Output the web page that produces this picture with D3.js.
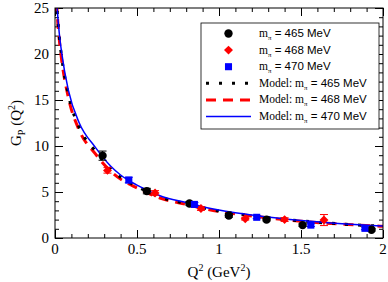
<!DOCTYPE html>
<html>
<head>
<meta charset="utf-8">
<script src="https://cdn.jsdelivr.net/npm/d3@7"></script>
<style>
  body { margin: 0; background: #fff; }
  svg { display: block; }
</style>
</head>
<body>
<svg width="388" height="282"></svg>
<script>
// lattice data points (Q^2 in GeV^2, G_P, error)
var q465 = [0.29, 0.56, 0.82, 1.06, 1.29, 1.51, 1.93];
var g465 = [8.95, 5.1, 3.75, 2.45, 2.0, 1.4, 0.9];
var e465 = [0.5, 0.3, 0.2, 0.2, 0.15, 0.15, 0.15];

var q468 = [0.32, 0.61, 0.89, 1.16, 1.40, 1.64];
var g468 = [7.35, 4.9, 3.2, 2.1, 2.0, 1.95];
var e468 = [0.3, 0.25, 0.2, 0.15, 0.2, 0.6];

var q470 = [0.45, 0.85, 1.23, 1.56, 1.89];
var g470 = [6.3, 3.65, 2.25, 1.4, 1.05];
var e470 = [0.3, 0.2, 0.15, 0.15, 0.15];

// model curves
var qModel = [0.005, 0.014, 0.026, 0.041, 0.081, 0.148, 0.244, 0.34, 0.40, 0.5, 0.64, 0.8, 0.95, 1.2, 1.5, 1.75, 2.0];
var m465 = [27.5, 24.5, 21.9, 19.6, 15.6, 12.0, 9.5, 7.5, 6.6, 5.6, 4.45, 3.73, 3.1, 2.44, 1.86, 1.52, 1.28];
var m468 = [27.5, 24.3, 21.6, 19.3, 15.3, 11.7, 9.2, 7.25, 6.4, 5.45, 4.35, 3.65, 3.05, 2.4, 1.83, 1.5, 1.27];
var m470 = [27.5, 24.8, 22.25, 20.1, 16.1, 12.5, 9.9, 7.8, 6.85, 5.75, 4.6, 3.85, 3.2, 2.5, 1.9, 1.55, 1.3];

var xTicks = [0, 0.5, 1, 1.5, 2];
var yTicks = [0, 5, 10, 15, 20, 25];

var svg = d3.select("svg"),
    margin = {top: 8, right: 5, bottom: 44, left: 55},
    width = +svg.attr("width") - margin.left - margin.right,
    height = +svg.attr("height") - margin.top - margin.bottom,
    g = svg.append("g").attr("transform", "translate(" + margin.left + "," + margin.top + ")");

var x = d3.scaleLinear().domain([0, 2]).range([0, width]);
var y = d3.scaleLinear().domain([0, 25]).range([height, 0]);

var serif = "'Liberation Serif', 'DejaVu Serif', serif";
var sans = "'Liberation Sans', Arial, sans-serif";

svg.append("defs").append("clipPath").attr("id", "clip")
  .append("rect").attr("width", width).attr("height", height);

// ticks, inward, mirrored on top and right
g.append("g")
    .attr("transform", "translate(0," + height + ")")
    .call(d3.axisTop(x).tickValues(d3.range(0, 2.01, 0.1)).tickSize(4).tickFormat(""));
g.append("g")
    .attr("transform", "translate(0," + height + ")")
    .call(d3.axisTop(x).tickValues(xTicks).tickSize(8).tickFormat(""));
g.append("g")
    .call(d3.axisBottom(x).tickValues(d3.range(0, 2.01, 0.1)).tickSize(4).tickFormat(""));
g.append("g")
    .call(d3.axisBottom(x).tickValues(xTicks).tickSize(8).tickFormat(""));

g.append("g")
    .call(d3.axisRight(y).tickValues(d3.range(0, 25.1, 1)).tickSize(4).tickFormat(""));
g.append("g")
    .call(d3.axisRight(y).tickValues(yTicks).tickSize(8).tickFormat(""));
g.append("g")
    .attr("transform", "translate(" + width + ",0)")
    .call(d3.axisLeft(y).tickValues(d3.range(0, 25.1, 1)).tickSize(4).tickFormat(""));
g.append("g")
    .attr("transform", "translate(" + width + ",0)")
    .call(d3.axisLeft(y).tickValues(yTicks).tickSize(8).tickFormat(""));

g.selectAll(".domain").remove();
g.selectAll(".tick line").attr("stroke", "#000");

// tick labels
g.append("g").selectAll("text")
  .data(xTicks)
  .enter().append("text")
    .attr("x", function(d) { return x(d); })
    .attr("y", height + 16)
    .attr("text-anchor", "middle")
    .attr("font-family", serif)
    .attr("font-size", 15)
    .text(function(d) { return d; });

g.append("g").selectAll("text")
  .data(yTicks)
  .enter().append("text")
    .attr("x", -6)
    .attr("y", function(d) { return y(d); })
    .attr("dy", "0.35em")
    .attr("text-anchor", "end")
    .attr("font-family", serif)
    .attr("font-size", 15)
    .text(function(d) { return d; });

// axis titles
var xl = svg.append("text")
    .attr("x", margin.left + width / 2)
    .attr("y", 277)
    .attr("text-anchor", "middle")
    .attr("font-family", serif)
    .attr("font-size", 15);
xl.append("tspan").text("Q");
xl.append("tspan").attr("font-size", 10).attr("dy", -6).text("2");
xl.append("tspan").attr("dy", 6).text(" (GeV");
xl.append("tspan").attr("font-size", 10).attr("dy", -6).text("2");
xl.append("tspan").attr("dy", 6).text(")");

var yl = svg.append("text")
    .attr("transform", "translate(21," + (margin.top + height / 2) + ") rotate(-90)")
    .attr("text-anchor", "middle")
    .attr("font-family", serif)
    .attr("font-size", 15);
yl.append("tspan").text("G");
yl.append("tspan").attr("font-size", 10).attr("dy", 4).text("P");
yl.append("tspan").attr("dy", -4).text(" (Q");
yl.append("tspan").attr("font-size", 10).attr("dy", -6).text("2");
yl.append("tspan").attr("dy", 6).text(")");

// model curves
var line = d3.line()
    .x(function(d) { return x(d[0]); })
    .y(function(d) { return y(d[1]); })
    .curve(d3.curveMonotoneX);

var curves = g.append("g").attr("clip-path", "url(#clip)");

var models = [
  {vals: m468, color: "#ff0000", width: 3, dash: "10,7"},
  {vals: m465, color: "#000", width: 3, dash: "3,10"},
  {vals: m470, color: "#0000ff", width: 1.5, dash: null}
];

// data points with error bars (diamond = square turned 45 degrees)
var sets = [
  {q: q465, v: g465, e: e465, color: "#000", sym: d3.symbolCircle, size: 55, rot: 0},
  {q: q468, v: g468, e: e468, color: "#ff0000", sym: d3.symbolSquare, size: 40, rot: 45},
  {q: q470, v: g470, e: e470, color: "#0000ff", sym: d3.symbolSquare, size: 50, rot: 0}
];

sets.forEach(function(s) {
  var pts = s.q.map(function(q, i) { return {q: q, v: s.v[i], e: s.e[i]}; });
  var eb = g.append("g").attr("stroke", s.color).attr("stroke-width", 1);
  eb.selectAll("line.v").data(pts).enter().append("line")
    .attr("x1", function(d) { return x(d.q); })
    .attr("x2", function(d) { return x(d.q); })
    .attr("y1", function(d) { return y(d.v - d.e); })
    .attr("y2", function(d) { return y(d.v + d.e); });
  eb.selectAll("line.t").data(pts).enter().append("line")
    .attr("x1", function(d) { return x(d.q) - 4; })
    .attr("x2", function(d) { return x(d.q) + 4; })
    .attr("y1", function(d) { return y(d.v + d.e); })
    .attr("y2", function(d) { return y(d.v + d.e); });
  eb.selectAll("line.b").data(pts).enter().append("line")
    .attr("x1", function(d) { return x(d.q) - 4; })
    .attr("x2", function(d) { return x(d.q) + 4; })
    .attr("y1", function(d) { return y(d.v - d.e); })
    .attr("y2", function(d) { return y(d.v - d.e); });
});

sets.forEach(function(s) {
  g.append("g").selectAll("path")
    .data(s.q.map(function(q, i) { return [q, s.v[i]]; }))
    .enter().append("path")
      .attr("transform", function(d) { return "translate(" + x(d[0]) + "," + y(d[1]) + ") rotate(" + s.rot + ")"; })
      .attr("d", d3.symbol().type(s.sym).size(s.size))
      .attr("fill", s.color);
});

models.forEach(function(m) {
  curves.append("path")
    .datum(qModel.map(function(q, i) { return [q, m.vals[i]]; }))
    .attr("d", line)
    .attr("fill", "none")
    .attr("stroke", m.color)
    .attr("stroke-width", m.width)
    .attr("stroke-dasharray", m.dash);
});

// frame
g.append("rect")
    .attr("width", width)
    .attr("height", height)
    .attr("fill", "none")
    .attr("stroke", "#000");

// legend
var legend = svg.append("g").attr("transform", "translate(201,23)");
legend.append("rect")
    .attr("width", 178)
    .attr("height", 106)
    .attr("fill", "#fff")
    .attr("stroke", "#000")
    .attr("stroke-width", 0.8);

var legendItems = [
  {label: "465", model: false, set: sets[0]},
  {label: "468", model: false, set: sets[1]},
  {label: "470", model: false, set: sets[2]},
  {label: "465", model: true, m: models[1]},
  {label: "468", model: true, m: models[0]},
  {label: "470", model: true, m: models[2]}
];

var li = legend.selectAll("g.item")
  .data(legendItems)
  .enter().append("g")
    .attr("transform", function(d, i) { return "translate(0," + (10.5 + i * 16.6) + ")"; });

li.each(function(d) {
  var el = d3.select(this);
  if (d.model) {
    el.append("line")
      .attr("x1", 5).attr("x2", 50)
      .attr("stroke", d.m.color)
      .attr("stroke-width", d.m.width)
      .attr("stroke-dasharray", d.m.dash);
  } else {
    el.append("path")
      .attr("transform", "translate(27.5,0) rotate(" + d.set.rot + ")")
      .attr("d", d3.symbol().type(d.set.sym).size(d.set.size))
      .attr("fill", d.set.color);
  }
  var t = el.append("text")
    .attr("x", 58)
    .attr("y", 3.5)
    .attr("font-size", 11.5);
  if (d.model) t.append("tspan").attr("font-family", serif).text("Model: ");
  t.append("tspan").attr("font-family", serif).text("m");
  t.append("tspan").attr("font-family", serif).attr("font-size", 7).attr("dy", 3).text("\u03c0");
  t.append("tspan").attr("font-family", sans).attr("dy", -3).text(" = " + d.label + " MeV");
});
</script>
</body>
</html>
